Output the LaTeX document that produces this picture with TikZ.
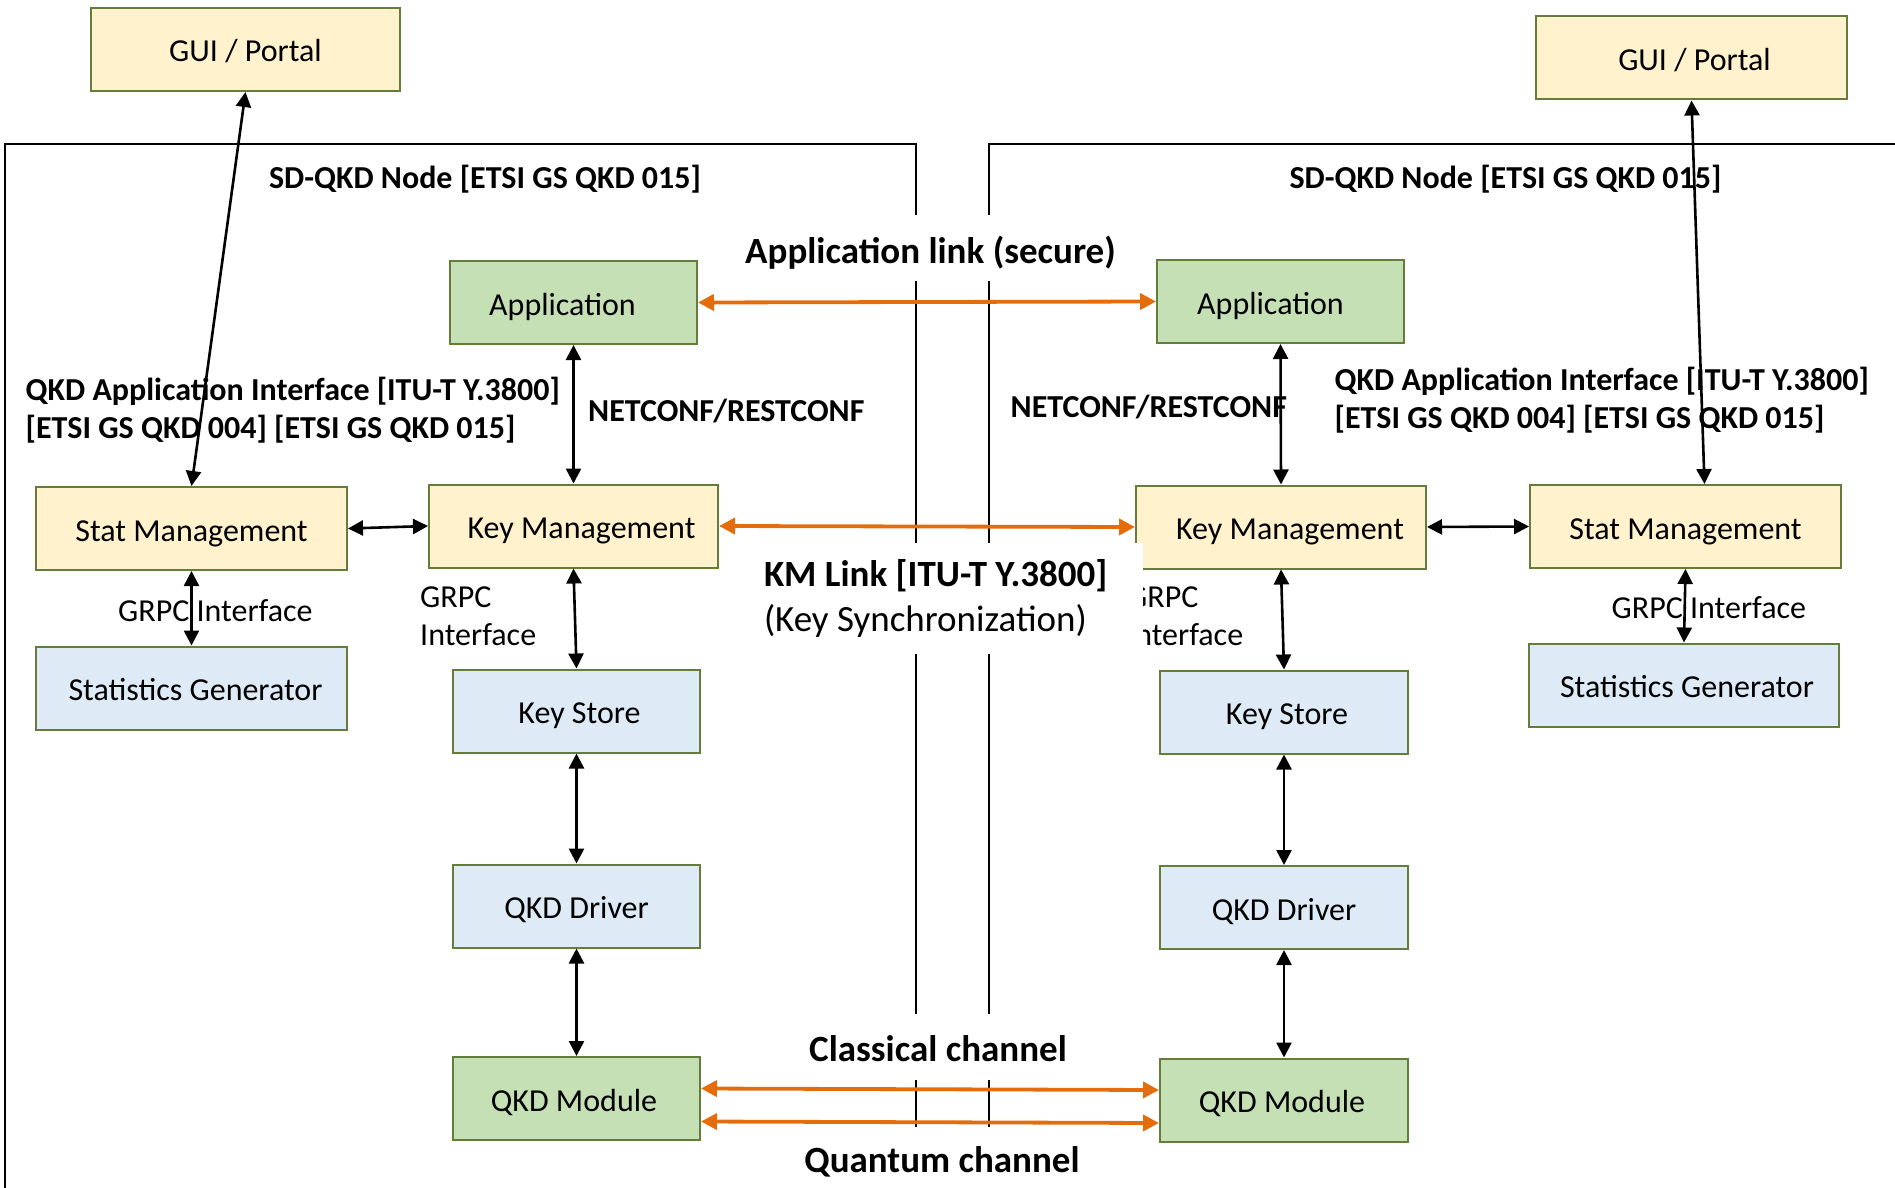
\documentclass[tikz,border=0pt]{standalone}
\usepackage{fontspec}
\setmainfont{Carlito}
\usetikzlibrary{arrows.meta,calc}
\definecolor{boxline}{RGB}{100,125,58}
\definecolor{yel}{RGB}{255,242,204}
\definecolor{grn}{RGB}{197,224,180}
\definecolor{blu}{RGB}{222,235,247}
\definecolor{orng}{RGB}{228,108,10}
\begin{document}
\begin{tikzpicture}[x=1pt,y=-1pt,
  box/.style={draw=boxline, line width=2pt, minimum height=83pt, inner sep=0pt,
    font=\fontsize{32}{38}\selectfont, text height=25pt, text depth=0pt},
  ybox/.style={box, fill=yel},
  gbox/.style={box, fill=grn},
  bbox/.style={box, fill=blu},
  frameline/.style={line width=2.6pt, black},
  blkarrow/.style={line width=2.6pt, black,
    {Triangle[length=15pt,width=15pt]}-{Triangle[length=15pt,width=15pt]}},
  orgarrow/.style={line width=3.8pt, orng,
    {Triangle[length=16pt,width=16pt]}-{Triangle[length=16pt,width=16pt]}},
  lbl/.style={font=\fontsize{32}{38}\selectfont\bfseries, inner sep=0pt,
    text height=20.6pt, text depth=0pt},
  mlbl/.style={font=\fontsize{32}{38}\selectfont\bfseries, inner sep=0pt, align=left},
  rlbl/.style={font=\fontsize{32}{38}\selectfont, inner sep=0pt,
    text height=20.6pt, text depth=0pt},
  rmlbl/.style={font=\fontsize{32}{38}\selectfont, inner sep=0pt, align=left},
  wbg/.style={fill=white, inner xsep=8pt, inner ysep=0pt,
    font=\fontsize{37}{45}\selectfont\bfseries, text height=23.8pt, text depth=0pt}
]
\useasboundingbox (0,0) rectangle (1895,1188);

% SD-QKD node frames
\draw[frameline] (5,1200) -- (5,144) -- (916,144) -- (916,1127);
\draw[frameline] (989,1127) -- (989,144) -- (1900,144);

% boxes
\node[ybox, minimum width=309pt] (guiL) at (245.5,49.5) {GUI / Portal};
\node[ybox, minimum width=311pt] (guiR) at (1691.5,58) {\hspace*{6pt}GUI / Portal};
\node[gbox, minimum width=247pt] (appL) at (573.5,302.5) {Application\hspace*{22pt}};
\node[gbox, minimum width=247pt] (appR) at (1280.5,301.5) {Application\hspace*{20pt}};
\node[ybox, minimum width=289pt] (kmL) at (573.5,526) {\hspace*{16pt}Key Management};
\node[ybox, minimum width=290pt] (kmR) at (1281,527) {\hspace*{18pt}Key Management};
\node[ybox, minimum width=311pt] (smL) at (191.5,528.5) {Stat Management};
\node[ybox, minimum width=311pt] (smR) at (1685.5,526.5) {Stat Management};
\node[bbox, minimum width=311pt] (sgL) at (191.5,688) {\hspace*{8pt}Statistics Generator};
\node[bbox, minimum width=310pt] (sgR) at (1684,685) {\hspace*{6pt}Statistics Generator};
\node[bbox, minimum width=247pt] (ksL) at (576.5,711) {\hspace*{6pt}Key Store};
\node[bbox, minimum width=248pt] (ksR) at (1284,712) {\hspace*{6pt}Key Store};
\node[bbox, minimum width=247pt] (drL) at (576.5,906) {QKD Driver};
\node[bbox, minimum width=248pt] (drR) at (1284,907.5) {QKD Driver};
\node[gbox, minimum width=247pt] (qmL) at (576.5,1098.5) {QKD Module\hspace*{5pt}};
\node[gbox, minimum width=248pt] (qmR) at (1284,1100) {QKD Module\hspace*{4pt}};

% black connectors
\draw[blkarrow] (guiL.south) -- (smL.north);
\draw[blkarrow] (guiR.south) -- ($(smR.north)+(19,0)$);
\draw[blkarrow] (appL.south) -- (kmL.north);
\draw[blkarrow] (appR.south) -- (kmR.north);
\draw[blkarrow] (smL.east) -- (kmL.west);
\draw[blkarrow] (kmR.east) -- (smR.west);
\draw[blkarrow] (smL.south) -- (sgL.north);
\draw[blkarrow] (smR.south) -- (sgR.north);
\draw[blkarrow] (kmL.south) -- (ksL.north);
\draw[blkarrow] (kmR.south) -- (ksR.north);
\draw[blkarrow] (ksL.south) -- (drL.north);
\draw[blkarrow] (ksR.south) -- (drR.north);
\draw[blkarrow] (drL.south) -- (qmL.north);
\draw[blkarrow] (drR.south) -- (qmR.north);

% orange links
\draw[orgarrow] (appL.east) -- (appR.west);
\draw[orgarrow] (kmL.east) -- (kmR.west);
\draw[orgarrow] ($(qmL.east)+(0,-10)$) -- ($(qmR.west)+(0,-10)$);
\draw[orgarrow] ($(qmL.east)+(0,23)$) -- ($(qmR.west)+(0,23)$);

% labels
\node[lbl] (sdL) at (485,178) {SD-QKD Node [ETSI GS QKD 015]};
\node[lbl] (sdR) at (1505.5,178) {SD-QKD Node [ETSI GS QKD 015]};
\node[mlbl, anchor=west] (qaiL) at (25.5,410) {QKD Application Interface [ITU-T Y.3800]\\\relax[ETSI GS QKD 004] [ETSI GS QKD 015]};
\node[mlbl, anchor=west] (qaiR) at (1334.5,400) {QKD Application Interface [ITU-T Y.3800]\\\relax[ETSI GS QKD 004] [ETSI GS QKD 015]};
\node[lbl, anchor=west] (netL) at (588,411) {NETCONF/RESTCONF};
\node[lbl, anchor=west] (netR) at (1010.5,407.5) {NETCONF/RESTCONF};
\node[rlbl, anchor=west] (grpcSL) at (118,611) {GRPC Interface};
\node[rlbl, anchor=west] (grpcSR) at (1611.5,608) {GRPC Interface};
\node[rmlbl, anchor=west] (grpcKL) at (420,616) {GRPC\\Interface};
\node[rmlbl, anchor=west] (grpcKR) at (1127,616.5) {GRPC\\Interface};

% channel labels on white background
\node[wbg, minimum height=66pt, text height=30.8pt] (applink) at (930.5,248) {Application link (secure)};
\node[fill=white, inner xsep=9pt, inner ysep=0pt, minimum height=111pt, text width=370pt,
  align=flush left, font=\fontsize{37}{45}\selectfont] (kmlink) at (949,598)
  {\textbf{KM Link [ITU-T Y.3800]}\\(Key Synchronization)};
\node[wbg, minimum height=66pt, text height=28.6pt] (classical) at (938,1047) {Classical channel};
\node[wbg, minimum height=69pt] (quantum) at (942,1161) {Quantum channel};
\end{tikzpicture}
\end{document}
